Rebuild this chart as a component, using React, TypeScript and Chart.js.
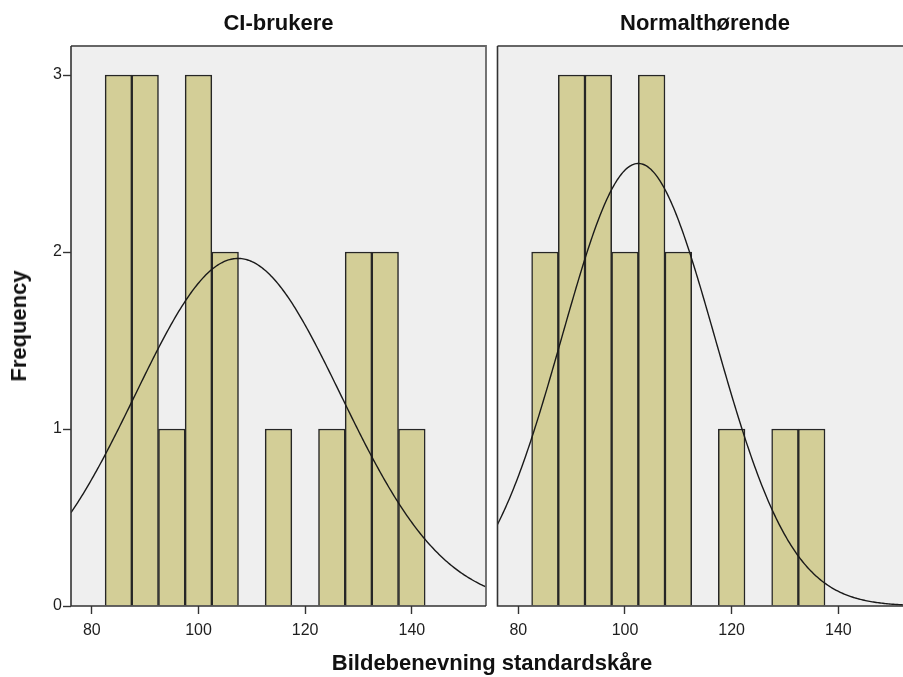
import React, { useEffect, useRef } from "react";
import { Chart, registerables } from "chart.js";

Chart.register(...registerables);

// Histogram bins (5-point wide), identified by their centre value
const binCenters = [85, 90, 95, 100, 105, 110, 115, 120, 125, 130, 135, 140];
const ciCounts = [3, 3, 1, 3, 2, 0, 1, 0, 1, 2, 2, 1];
const nhCounts = [2, 3, 3, 2, 3, 2, 0, 1, 0, 1, 1, 0];

// Fitted normal curve parameters: [mean, standard deviation, N]
const ciNormal = [107.4, 19.3, 19];
const nhNormal = [102.5, 14.36, 18];

const binWidth = 5;
const xTicks = [80, 100, 120, 140];
const yTicks = [0, 1, 2, 3];
const xRange = [76.1, 153.9];
const yRange = [0, 3.164];

const panelTitles = ["CI-brukere", "Normalthørende"];
const xTitle = "Bildebenevning standardskåre";
const yTitle = "Frequency";

const FONT = 'Arial, "Liberation Sans", sans-serif';

function normalCurve(params: number[]) {
  const [mean, sd, n] = params;
  const pts: { x: number; y: number }[] = [];
  const scale = (n * binWidth) / (sd * Math.sqrt(2 * Math.PI));
  for (let x = xRange[0]; x <= xRange[1] + 0.001; x += 0.25) {
    const z = (x - mean) / sd;
    pts.push({ x, y: scale * Math.exp(-0.5 * z * z) });
  }
  return pts;
}

// Grey plot background and frame around each panel
const panelFrame = {
  id: "panelFrame",
  beforeDatasetsDraw(chart: any) {
    const { ctx, chartArea: a } = chart;
    ctx.save();
    ctx.fillStyle = "#efefef";
    ctx.fillRect(a.left, a.top, a.right - a.left, a.bottom - a.top);
    ctx.restore();
  },
  afterDraw(chart: any) {
    const { ctx, chartArea: a } = chart;
    ctx.save();
    ctx.strokeStyle = "#666";
    ctx.lineWidth = 1.8;
    ctx.beginPath();
    ctx.moveTo(a.left, a.top);
    ctx.lineTo(a.right, a.top);
    ctx.lineTo(a.right, a.bottom);
    ctx.stroke();
    ctx.strokeStyle = "#333";
    ctx.lineWidth = 1.6;
    ctx.beginPath();
    ctx.moveTo(a.left, a.top);
    ctx.lineTo(a.left, a.bottom);
    ctx.lineTo(a.right, a.bottom);
    ctx.stroke();
    ctx.restore();
  },
};

function makeConfig(
  counts: number[],
  fit: number[],
  showY: boolean,
  yAxisWidth: number,
  padRight: number
): any {
  return {
    type: "bar",
    data: {
      datasets: [
        {
          type: "line",
          data: normalCurve(fit),
          borderColor: "#1a1a1a",
          borderWidth: 1.4,
          pointRadius: 0,
          tension: 0,
          order: 0,
        },
        {
          type: "bar",
          data: binCenters.map((x, i) => ({ x, y: counts[i] })),
          backgroundColor: "#d3ce97",
          borderColor: "#262626",
          borderWidth: 1.5,
          borderSkipped: "bottom",
          barPercentage: 1,
          categoryPercentage: 1,
          order: 1,
        },
      ],
    },
    options: {
      animation: false,
      responsive: false,
      events: [],
      layout: { padding: { top: 46, right: padRight, bottom: 0, left: 0 } },
      plugins: {
        legend: { display: false },
        tooltip: { enabled: false },
      },
      scales: {
        x: {
          type: "linear",
          min: xRange[0],
          max: xRange[1],
          offset: false,
          afterBuildTicks: (s: any) => {
            s.ticks = xTicks.map((v) => ({ value: v }));
          },
          afterFit: (s: any) => {
            s.height = 71;
          },
          grid: {
            display: true,
            drawOnChartArea: false,
            drawTicks: true,
            tickLength: 8,
            tickWidth: 1.4,
            tickColor: "#333",
            offset: false,
          },
          border: { display: false },
          ticks: {
            autoSkip: false,
            maxRotation: 0,
            padding: 7,
            color: "#1e1e1e",
            font: { family: FONT, size: 16 },
          },
        },
        y: {
          min: yRange[0],
          max: yRange[1],
          afterBuildTicks: (s: any) => {
            s.ticks = yTicks.map((v) => ({ value: v }));
          },
          afterFit: (s: any) => {
            s.width = yAxisWidth;
          },
          grid: {
            display: true,
            drawOnChartArea: false,
            drawTicks: showY,
            tickLength: 8,
            tickWidth: 1.4,
            tickColor: "#333",
          },
          border: { display: false },
          ticks: {
            display: showY,
            padding: 1,
            color: "#1e1e1e",
            font: { family: FONT, size: 16 },
          },
        },
      },
    },
    plugins: [panelFrame],
  };
}

const titleStyle: React.CSSProperties = {
  position: "absolute",
  font: `bold 22px ${FONT}`,
  lineHeight: "22px",
  color: "#111",
  whiteSpace: "nowrap",
  transform: "translateX(-50%)",
};

export default function App() {
  const leftRef = useRef<HTMLCanvasElement>(null);
  const rightRef = useRef<HTMLCanvasElement>(null);

  useEffect(() => {
    const left = new Chart(leftRef.current!, makeConfig(ciCounts, ciNormal, true, 71, 6));
    const right = new Chart(rightRef.current!, makeConfig(nhCounts, nhNormal, false, 5.5, 9.5));
    return () => {
      left.destroy();
      right.destroy();
    };
  }, []);

  return (
    <div
      style={{
        position: "fixed",
        left: 0,
        top: 0,
        width: 903,
        height: 677,
        overflow: "hidden",
        background: "#fff",
      }}
    >
      <canvas
        ref={leftRef}
        width={492}
        height={677}
        style={{ position: "absolute", left: 0, top: 0, width: 492, height: 677 }}
      />
      <canvas
        ref={rightRef}
        width={430}
        height={677}
        style={{ position: "absolute", left: 492, top: 0, width: 430, height: 677 }}
      />
      <div style={{ ...titleStyle, left: 278.5, top: 12 }}>{panelTitles[0]}</div>
      <div style={{ ...titleStyle, left: 705, top: 12 }}>{panelTitles[1]}</div>
      <div style={{ ...titleStyle, left: 492, top: 652 }}>{xTitle}</div>
      <div
        style={{
          ...titleStyle,
          left: 19,
          top: 326,
          transform: "translate(-50%, -50%) rotate(-90deg)",
        }}
      >
        {yTitle}
      </div>
    </div>
  );
}
